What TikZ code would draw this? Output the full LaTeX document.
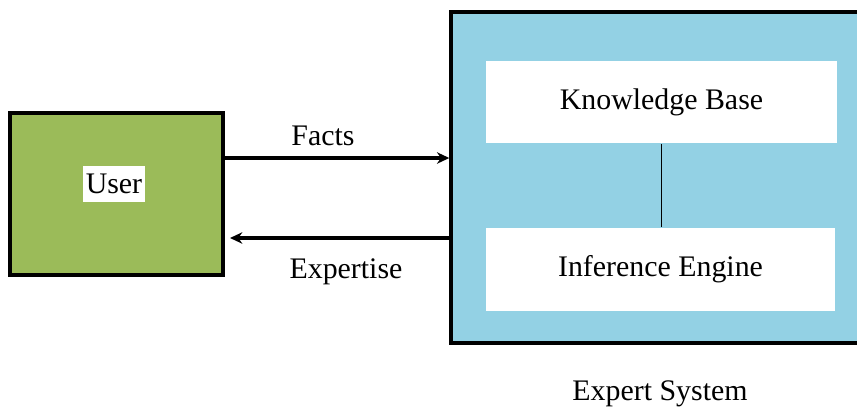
\documentclass[tikz,border=0pt]{standalone}
\usepackage{fontspec}
\setmainfont{Liberation Serif}
\newfontfamily\labelfont{Liberation Serif}
\usepackage{tikz}
\usetikzlibrary{arrows.meta,calc}
\definecolor{usergreen}{RGB}{155,187,89}
\definecolor{sysblue}{RGB}{147,209,228}
\tikzset{
  bigbox/.style={draw=black,line width=2pt,inner sep=0pt},
  part/.style={fill=white,inner sep=0pt,minimum height=1.66cm},
  flow/.style={line width=1.9pt,-{Stealth[length=7pt,width=6.5pt]}},
  lbl/.style={anchor=base,inner sep=0pt},
}
\begin{document}
\begin{tikzpicture}[x=0.02cm,y=-0.02cm,font=\labelfont\fontsize{17}{20}\selectfont]
\clip (0,0) rectangle (857,406);
\fill[white] (0,0) rectangle (857,406);
\node[bigbox,fill=usergreen,minimum width=4.26cm,minimum height=3.24cm] (user) at (116.5,194) {};
\node[fill=white,inner xsep=1.7pt,inner ysep=0pt,minimum height=0.72cm] (userlbl) at (114,184) {User};
\node[bigbox,fill=sysblue,minimum width=8.38cm,minimum height=6.62cm] (expert) at (660.5,177.5) {};
\node[part,minimum width=7.02cm] (kb) at (661.5,102) {Knowledge Base};
\node[part,minimum width=6.98cm] (ie) at (660.5,269) {Inference Engine};
\draw[line width=0.85pt] (kb.south) -- (kb.south |- ie.north);
\draw[flow] ([yshift=0.72cm]user.east) -- ([yshift=0.72cm]user.east -| expert.west);
\draw[flow] ([yshift=-0.88cm]user.east -| expert.west) -- ([yshift=-0.88cm,xshift=3pt]user.east);
\node[lbl] (facts) at (323,145) {Facts};
\node[lbl] (expertise) at (346,278) {Expertise};
\node[lbl] (sysname) at (660,400) {Expert System};
\end{tikzpicture}
\end{document}
